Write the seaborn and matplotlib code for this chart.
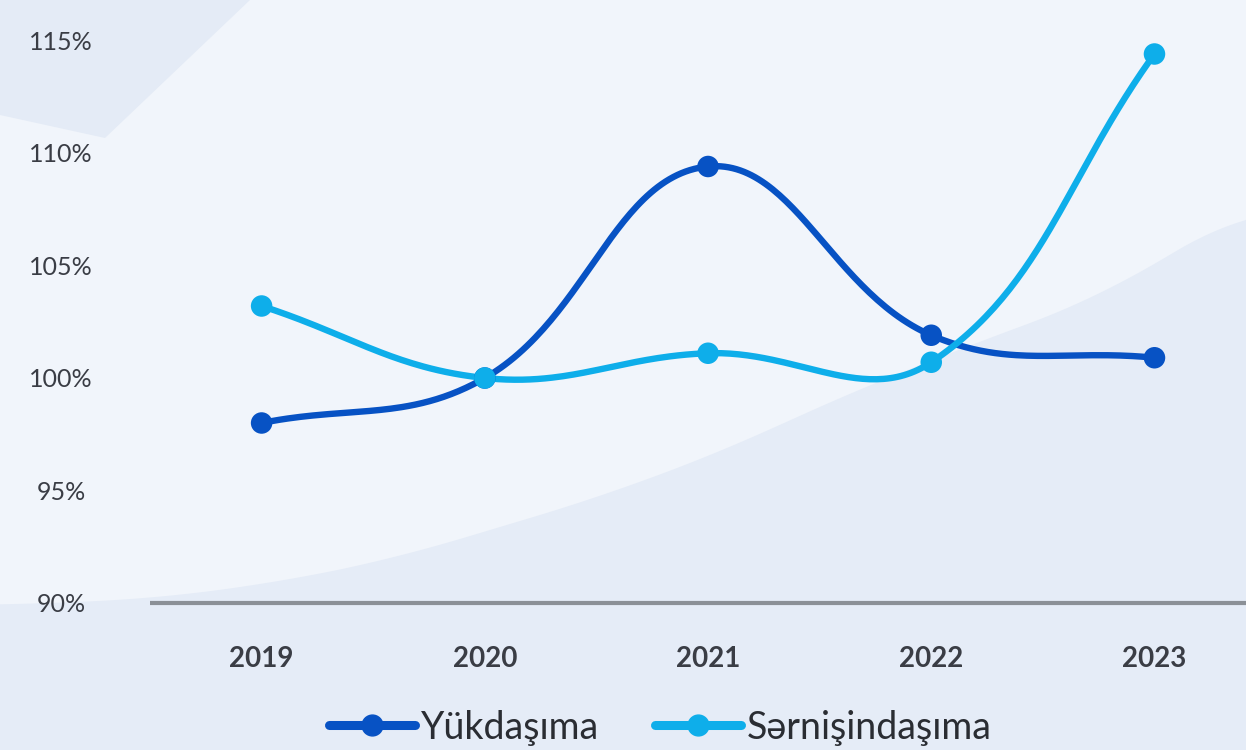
import numpy as np
import pandas as pd
import seaborn as sns
import matplotlib.pyplot as plt
from matplotlib.patches import Polygon
from matplotlib.lines import Line2D

# Data
years = ['2019', '2020', '2021', '2022', '2023']
yukdasima = [98.0, 100.0, 109.4, 101.9, 100.9]
sernisindasima = [103.2, 100.0, 101.1, 100.7, 114.4]
series_names = ['Yükdaşıma', 'Sərnişindaşıma']
y_ticks = [90, 95, 100, 105, 110, 115]
colors = ['#0752c4', '#0eaeea']


def smooth(ys, sx=223.0, sy=22.5, t=0.4, n=60):
    # cardinal spline (chart.js style), control points computed in pixel space
    px = np.arange(len(ys), dtype=float) * sx
    py = np.asarray(ys, dtype=float) * sy
    m = len(px)
    cprev, cnext = [], []
    for i in range(m):
        a, b = max(i - 1, 0), min(i + 1, m - 1)
        d01 = np.hypot(px[i] - px[a], py[i] - py[a])
        d12 = np.hypot(px[b] - px[i], py[b] - py[i])
        tot = d01 + d12
        fa, fb = t * d01 / tot, t * d12 / tot
        dx, dy = px[b] - px[a], py[b] - py[a]
        cprev.append((px[i] - fa * dx, py[i] - fa * dy))
        cnext.append((px[i] + fb * dx, py[i] + fb * dy))
    xs, yv = [], []
    u = np.linspace(0, 1, n)
    for i in range(m - 1):
        p0 = np.array([px[i], py[i]])
        p1 = np.array(cnext[i])
        p2 = np.array(cprev[i + 1])
        p3 = np.array([px[i + 1], py[i + 1]])
        pts = ((1 - u) ** 3)[:, None] * p0 + (3 * (1 - u) ** 2 * u)[:, None] * p1 \
            + (3 * (1 - u) * u ** 2)[:, None] * p2 + (u ** 3)[:, None] * p3
        xs.extend(pts[:, 0] / sx)
        yv.extend(pts[:, 1] / sy)
    return np.array(xs), np.array(yv)


sns.set_theme(style='white')
plt.rcParams['font.family'] = ['Lato', 'DejaVu Sans']

fig = plt.figure(figsize=(12.46, 7.5), dpi=100)
fig.patch.set_facecolor('#f1f5fb')

W, H = 1246.0, 750.0
def fpx(pts):
    return [(x / W, 1 - y / H) for x, y in pts]

# background decoration (top-left wedge + rising curved band)
fig.add_artist(Polygon(fpx([(0, 0), (250, 0), (105, 138), (0, 115)]),
                       closed=True, transform=fig.transFigure,
                       facecolor='#e4ebf6', edgecolor='none', zorder=0))
bx = np.array([0, 150, 280, 400, 600, 733, 833, 970, 1093, 1246], dtype=float)
by = np.array([605, 599, 582, 557, 497, 447, 400, 345, 300, 210], dtype=float)
fx = np.linspace(0, 1246, 120)
fy = np.interp(fx, bx, by)
fy = np.convolve(np.pad(fy, 6, mode='edge'), np.ones(13) / 13, mode='valid')
band = list(zip(fx, fy)) + [(1246, 750), (0, 750)]
fig.add_artist(Polygon(fpx(band), closed=True, transform=fig.transFigure,
                       facecolor='#e5ecf7', edgecolor='none', zorder=0))

ax = fig.add_axes([150 / W, 1 - 603 / H, 1 - 150 / W, 603 / H])
ax.patch.set_alpha(0)

rows = []
for name, vals in zip(series_names, [yukdasima, sernisindasima]):
    cx, cy = smooth(vals)
    rows.append(pd.DataFrame({'x': cx, 'y': cy, 'series': name}))
curve = pd.concat(rows, ignore_index=True)
pts = pd.DataFrame({
    'x': list(range(len(years))) * 2,
    'y': yukdasima + sernisindasima,
    'series': [series_names[0]] * len(years) + [series_names[1]] * len(years),
})
pal = dict(zip(series_names, colors))

sns.lineplot(data=curve, x='x', y='y', hue='series', palette=pal, sort=False,
             estimator=None, linewidth=4.6, legend=False, ax=ax, zorder=3)
sns.scatterplot(data=pts, x='x', y='y', hue='series', palette=pal, s=240,
                edgecolor='none', legend=False, ax=ax, zorder=4)

ax.set_xlim(-0.5, 4.41)
ax.set_ylim(90, 116.8)
ax.set_xticks(range(len(years)))
ax.set_xticklabels(years, fontsize=20, fontweight='bold', color='#3a3d45')
ax.set_yticks(y_ticks)
ax.set_yticklabels([f'{v}%' for v in y_ticks], fontsize=18, color='#3a3d45', ha='center')
ax.tick_params(axis='y', length=0, pad=64)
ax.tick_params(axis='x', length=0, pad=31)
ax.set_xlabel('')
ax.set_ylabel('')
for s in ['top', 'right', 'left']:
    ax.spines[s].set_visible(False)
ax.spines['bottom'].set_color('#8b9097')
ax.spines['bottom'].set_linewidth(3)
ax.spines['bottom'].set_capstyle('butt')

handles = [Line2D([0], [0], color=c, lw=6.5, marker='o', markersize=15) for c in colors]
fig.legend(handles, series_names, loc='center', bbox_to_anchor=(0.53, 0.03),
           ncol=2, frameon=False, fontsize=27, handlelength=2.3,
           handletextpad=0.15, columnspacing=1.5, labelcolor='#2a2d33')

fig.savefig('out.png', dpi=100, facecolor=fig.get_facecolor())
